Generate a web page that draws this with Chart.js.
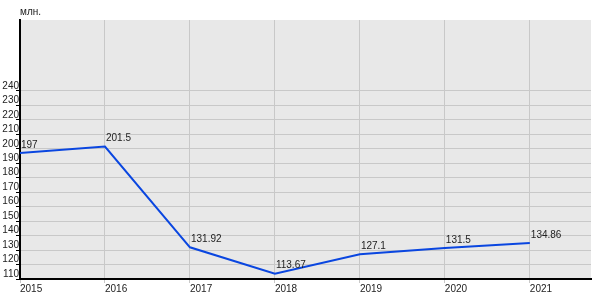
<!DOCTYPE html>
<html>
<head>
<meta charset="utf-8">
<script src="https://cdn.jsdelivr.net/npm/chart.js@4/dist/chart.umd.min.js"></script>
<style>
html,body{margin:0;padding:0;background:#fff;}
#wrap{width:600px;height:300px;position:relative;}
</style>
</head>
<body>
<div id="wrap"><canvas id="c" width="600" height="300"></canvas></div>
<script>
const years = [2015, 2016, 2017, 2018, 2019, 2020, 2021];
const values = [197, 201.5, 131.92, 113.67, 127.1, 131.5, 134.86];
const valueLabels = ['197', '201.5', '131.92', '113.67', '127.1', '131.5', '134.86'];
const unitLabel = 'млн.';
const yTickMin = 110;
const yTickMax = 240;

const FONT = "'Liberation Sans Narrow', 'Liberation Sans', Arial, sans-serif";

const bgPlugin = {
  id: 'bg',
  beforeDraw(chart) {
    const a = chart.chartArea, ctx = chart.ctx;
    ctx.save();
    ctx.fillStyle = '#e8e8e8';
    ctx.fillRect(a.left, a.top, a.right - a.left, a.bottom - a.top);
    ctx.restore();
  }
};

const labelPlugin = {
  id: 'vlabels',
  afterDatasetsDraw(chart) {
    const ctx = chart.ctx;
    const meta = chart.getDatasetMeta(0);
    ctx.save();
    ctx.font = '10px ' + FONT;
    ctx.fillStyle = '#222';
    ctx.textAlign = 'left';
    ctx.textBaseline = 'middle';
    meta.data.forEach((p, i) => {
      ctx.fillText(valueLabels[i], p.x + 1, p.y - 8);
    });
    ctx.textBaseline = 'middle';
    ctx.fillText(unitLabel, chart.chartArea.left, 12);
    ctx.restore();
  }
};

new Chart(document.getElementById('c'), {
  type: 'line',
  data: {
    datasets: [{
      data: years.map((y, i) => ({x: y, y: values[i]})),
      borderColor: '#0a46e0',
      borderWidth: 2,
      pointRadius: 0,
      tension: 0,
      fill: false
    }]
  },
  options: {
    responsive: false,
    animation: false,
    layout: {padding: {top: 20, right: 9, left: 0, bottom: 0}},
    plugins: {legend: {display: false}, tooltip: {enabled: false}},
    scales: {
      x: {
        type: 'linear',
        min: 2015,
        max: 2021.72,
        afterBuildTicks(s) { s.ticks = years.map(v => ({value: v})); },
        afterFit(s) { s.height = 21; },
        ticks: {
          align: 'start',
          padding: 0,
          color: '#222',
          font: {size: 10, family: FONT},
          callback: v => String(v),
          maxRotation: 0
        },
        grid: {color: '#c8c8c8', lineWidth: 1, tickLength: 4, tickColor: '#c8c8c8'},
        border: {color: '#000', width: 2}
      },
      y: {
        min: 110,
        max: 289,
        afterBuildTicks(s) {
          const t = [];
          for (let v = yTickMin; v <= yTickMax; v += 10) t.push({value: v});
          s.ticks = t;
        },
        afterFit(s) { s.width = 20; },
        ticks: {
          padding: -3,
          labelOffset: -5,
          color: '#222',
          font: {size: 10, family: FONT},
          callback: v => String(v)
        },
        grid: {color: '#c8c8c8', lineWidth: 1, tickLength: 4, tickColor: '#000'},
        border: {color: '#000', width: 2}
      }
    }
  },
  plugins: [bgPlugin, labelPlugin]
});
</script>
</body>
</html>
